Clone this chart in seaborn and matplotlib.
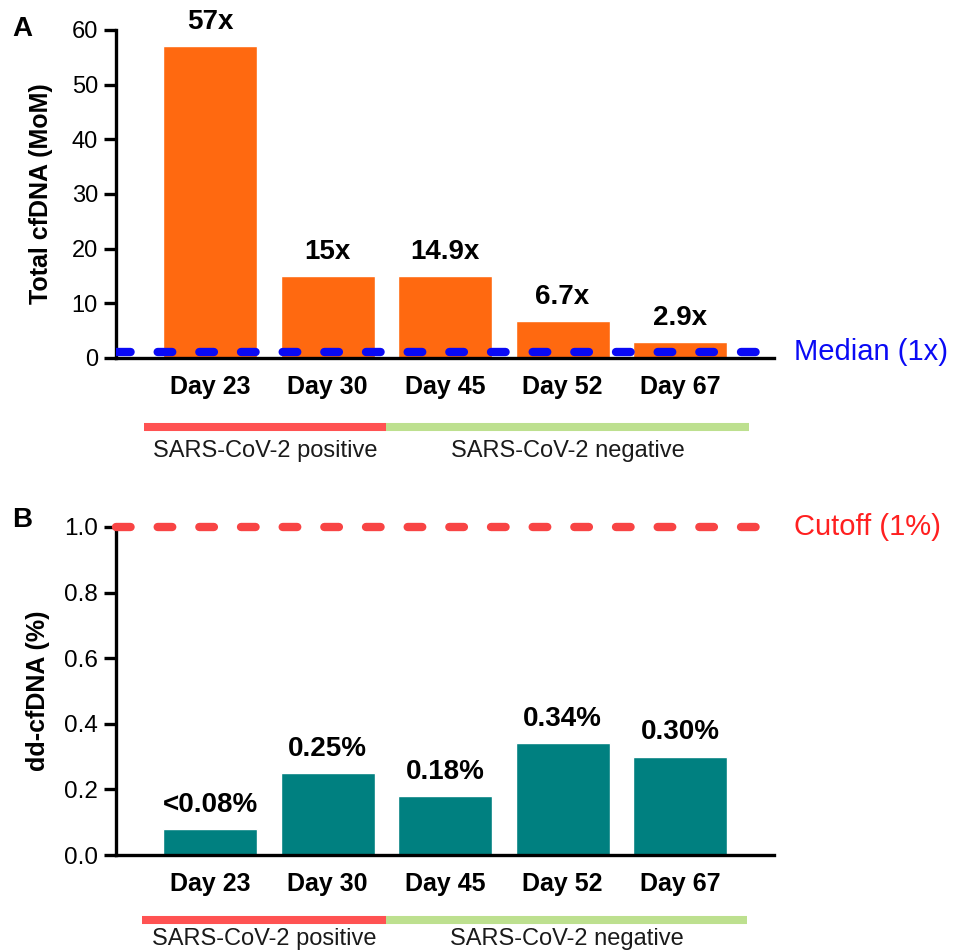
import matplotlib
matplotlib.use("Agg")
import matplotlib.pyplot as plt
import matplotlib.transforms as mtransforms
import seaborn as sns
import pandas as pd

# values
days = ["Day 23", "Day 30", "Day 45", "Day 52", "Day 67"]
total_cfdna = [57, 15, 14.9, 6.7, 2.9]
total_labels = ["57x", "15x", "14.9x", "6.7x", "2.9x"]
dd_cfdna = [0.08, 0.25, 0.18, 0.34, 0.30]
dd_labels = ["<0.08%", "0.25%", "0.18%", "0.34%", "0.30%"]
median_mom = 1
cutoff_pct = 1.0
groups = ["SARS-CoV-2 positive", "SARS-CoV-2 negative"]
group_sizes = [2, 3]
group_colors = ["#FF5252", "#BDE08F"]

sns.set_style("ticks")
plt.rcParams['font.family'] = ['Liberation Sans', 'DejaVu Sans']
plt.rcParams.update({"text.color": "black", "axes.labelcolor": "black",
                     "xtick.color": "black", "ytick.color": "black",
                     "axes.edgecolor": "black"})

fig = plt.figure(figsize=(9.55, 9.5), dpi=100)
axA = fig.add_axes([0.1215, 0.6232, 0.689, 0.3453])
axB = fig.add_axes([0.1215, 0.1, 0.689, 0.3453])

dfA = pd.DataFrame({"day": days, "value": total_cfdna})
dfB = pd.DataFrame({"day": days, "value": dd_cfdna})

sns.barplot(data=dfA, x="day", y="value", color="#FF6910", saturation=1, width=0.8, ax=axA, zorder=2)
sns.barplot(data=dfB, x="day", y="value", color="#008080", saturation=1, width=0.8, ax=axB, zorder=2)


def style_panel(ax, values, labels, ylim, yticks, ylabel, label_x, tick_size):
    ax.set_xlim(-0.8, len(values) - 0.2)
    ax.set_ylim(*ylim)
    ax.set_yticks(yticks)
    ax.set_xlabel("")
    ax.set_ylabel(ylabel, fontsize=18, fontweight='bold')
    ax.yaxis.set_label_coords(label_x, 0.5)
    sns.despine(ax=ax)
    for side in ["left", "bottom"]:
        ax.spines[side].set_linewidth(2.4)
        ax.spines[side].set_color("black")
        ax.spines[side].set_zorder(4)
    ax.tick_params(axis='y', length=9, width=2.4, labelsize=tick_size, pad=4)
    ax.tick_params(axis='x', length=0, pad=12, labelsize=18)
    for lbl in ax.get_xticklabels():
        lbl.set_fontweight('bold')
    for i, (v, t) in enumerate(zip(values, labels)):
        ax.annotate(t, (i, v), xytext=(0, 8), textcoords='offset points',
                    ha='center', va='bottom', fontsize=20, fontweight='bold')


def group_bars(ax, line_y, text_y, start, end):
    trans = mtransforms.blended_transform_factory(ax.transData, ax.transAxes)
    edges = [start, group_sizes[0] - 0.5, len(days) - 1 + end]
    for k, name in enumerate(groups):
        ax.plot([edges[k], edges[k + 1]], [line_y, line_y], color=group_colors[k],
                lw=5.8, solid_capstyle='butt', transform=trans, clip_on=False)
        ax.text((edges[k] + edges[k + 1]) / 2, text_y, name, transform=trans,
                ha='center', va='top', fontsize=17, color='#1a1a1a')


style_panel(axA, total_cfdna, total_labels, (0, 60), range(0, 61, 10),
            "Total cfDNA (MoM)", -0.096, 17)
style_panel(axB, dd_cfdna, dd_labels, (0, 1.0), [0.0, 0.2, 0.4, 0.6, 0.8, 1.0],
            "dd-cfDNA (%)", -0.100, 17.5)
axB.yaxis.set_major_formatter(matplotlib.ticker.FormatStrFormatter('%.1f'))

# reference lines
axA.axhline(median_mom, color="#0A0AF5", lw=6, dashes=(1.75, 3.25),
            dash_capstyle='round', zorder=5)
axB.axhline(cutoff_pct, color="#F84444", lw=6, dashes=(1.75, 3.25),
            dash_capstyle='round', zorder=5, clip_on=False)

tA = mtransforms.blended_transform_factory(axA.transAxes, axA.transData)
axA.text(1.03, median_mom, "Median (1x)", transform=tA, ha='left', va='center',
         fontsize=21, color="#0A0AF5")
tB = mtransforms.blended_transform_factory(axB.transAxes, axB.transData)
axB.text(1.03, cutoff_pct, "Cutoff (1%)", transform=tB, ha='left', va='center',
         fontsize=21, color="#FF2020")

group_bars(axA, -0.21, -0.25, -0.56, 0.59)
group_bars(axB, -0.198, -0.222, -0.58, 0.57)

fig.text(12 / 955, 1 - 29 / 950, "A", fontsize=20, fontweight='bold', ha='left', va='center')
fig.text(12 / 955, 1 - 520 / 950, "B", fontsize=20, fontweight='bold', ha='left', va='center')

fig.savefig("out.png", dpi=100)
